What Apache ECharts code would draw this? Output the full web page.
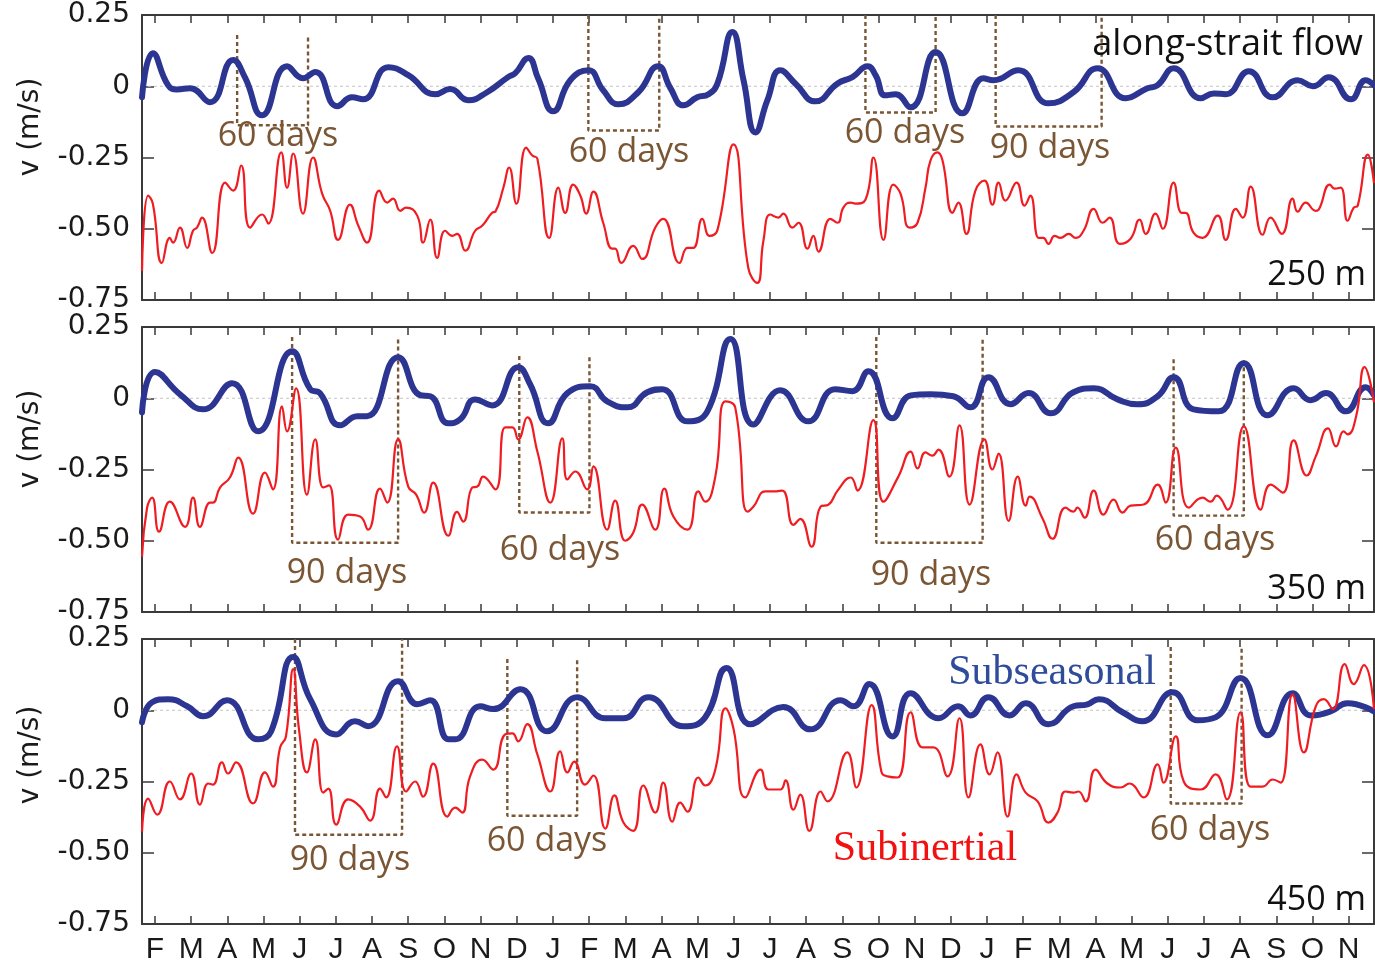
<!DOCTYPE html>
<html><head><meta charset="utf-8">
<script src="https://cdn.jsdelivr.net/npm/echarts@6/dist/echarts.min.js"></script>
<style>html,body{margin:0;padding:0;background:#fff}#c{width:1375px;height:966px}</style>
</head><body><div id="c"></div>
<script>
// ---- tick labels ----
const monthLabels = ['F','M','A','M','J','J','A','S','O','N','D','J','F','M','A','M','J','J','A','S','O','N','D','J','F','M','A','M','J','J','A','S','O','N'];
const yTicks = [-0.75,-0.5,-0.25,0,0.25];
const yTickLabels = ['-0.75','-0.50','-0.25','0','0.25'];
const depthLabels = ['250 m','350 m','450 m'];

// ---- data: [month index (0 = first F tick), velocity m/s] ----
const p1Blue = [[-0.36,-0.039],[-0.06,0.116],[0.36,0.004],[0.61,-0.011],[0.97,-0.007],[1.52,-0.056],[2.16,0.092],[2.49,0.03],[2.96,-0.102],[3.65,0.07],[4.09,0.028],[4.43,0.05],[5.04,-0.07],[5.45,-0.039],[5.75,-0.046],[6.45,0.067],[7.00,0.039],[7.75,-0.028],[8.16,-0.01],[8.66,-0.049],[9.18,-0.021],[9.76,0.032],[9.96,0.046],[10.32,0.099],[10.59,0.028],[11.01,-0.088],[11.48,0.021],[11.98,0.056],[12.39,-0.014],[12.81,-0.063],[13.36,-0.021],[13.91,0.07],[14.25,-0.007],[14.61,-0.067],[14.99,-0.039],[15.30,-0.028],[15.55,0.01],[15.96,0.19],[16.27,0.021],[16.60,-0.162],[16.93,-0.049],[17.29,0.056],[17.70,0.01],[18.26,-0.053],[18.87,0.01],[19.28,0.032],[19.70,0.07],[19.92,0.039],[20.19,-0.032],[20.47,-0.028],[20.89,-0.074],[21.58,0.12],[22.32,-0.095],[22.90,0.028],[23.18,0.021],[23.87,0.056],[24.70,-0.06],[25.39,-0.021],[26.06,0.063],[26.83,-0.042],[27.44,-0.007],[27.72,0.004],[28.16,0.063],[28.91,-0.042],[29.27,-0.025],[29.60,-0.028],[30.24,0.053],[30.90,-0.039],[31.59,0.021],[32.01,0],[32.45,0.032],[33.06,-0.046],[33.47,0.021],[33.70,0.004]];
const p1Red = [[-0.36,-0.648],[-0.19,-0.384],[-0.06,-0.412],[0.19,-0.62],[0.41,-0.532],[0.50,-0.549],[0.69,-0.496],[0.89,-0.567],[1.05,-0.507],[1.16,-0.496],[1.30,-0.461],[1.58,-0.585],[1.94,-0.338],[2.16,-0.366],[2.38,-0.278],[2.63,-0.496],[2.96,-0.45],[3.13,-0.482],[3.49,-0.232],[3.65,-0.356],[3.82,-0.236],[4.09,-0.447],[4.37,-0.25],[4.62,-0.377],[4.84,-0.436],[5.06,-0.539],[5.39,-0.415],[5.62,-0.489],[5.86,-0.549],[6.20,-0.366],[6.42,-0.408],[6.58,-0.394],[6.78,-0.437],[6.94,-0.426],[7.25,-0.454],[7.41,-0.549],[7.61,-0.468],[7.80,-0.602],[8.02,-0.507],[8.22,-0.525],[8.35,-0.518],[8.58,-0.577],[8.85,-0.507],[9.05,-0.489],[9.32,-0.444],[9.41,-0.44],[9.63,-0.356],[9.79,-0.285],[9.99,-0.412],[10.26,-0.215],[10.43,-0.243],[10.57,-0.254],[10.90,-0.532],[11.15,-0.356],[11.34,-0.444],[11.56,-0.345],[11.76,-0.384],[11.92,-0.447],[12.12,-0.37],[12.39,-0.479],[12.64,-0.57],[12.72,-0.57],[12.89,-0.62],[13.22,-0.56],[13.47,-0.606],[13.83,-0.496],[14.05,-0.465],[14.50,-0.62],[14.72,-0.567],[14.88,-0.567],[15.13,-0.465],[15.33,-0.525],[15.55,-0.504],[15.99,-0.204],[16.40,-0.637],[16.65,-0.69],[16.82,-0.542],[17.01,-0.45],[17.23,-0.461],[17.37,-0.447],[17.62,-0.496],[17.79,-0.479],[18.04,-0.57],[18.20,-0.525],[18.34,-0.58],[18.67,-0.465],[18.87,-0.479],[19.03,-0.426],[19.23,-0.408],[19.36,-0.412],[19.64,-0.398],[19.86,-0.25],[20.14,-0.539],[20.41,-0.345],[20.61,-0.377],[20.86,-0.496],[21.08,-0.479],[21.30,-0.356],[21.44,-0.26],[21.63,-0.232],[21.77,-0.26],[22.05,-0.444],[22.21,-0.408],[22.43,-0.518],[22.68,-0.366],[22.93,-0.331],[23.15,-0.415],[23.32,-0.338],[23.51,-0.401],[23.82,-0.338],[24.04,-0.419],[24.20,-0.384],[24.43,-0.532],[24.56,-0.532],[24.70,-0.553],[24.87,-0.525],[25.03,-0.532],[25.26,-0.518],[25.45,-0.532],[25.67,-0.507],[25.95,-0.43],[26.20,-0.479],[26.39,-0.461],[26.67,-0.553],[26.97,-0.535],[27.22,-0.468],[27.39,-0.518],[27.66,-0.447],[27.86,-0.5],[28.16,-0.338],[28.38,-0.444],[28.49,-0.444],[28.71,-0.514],[28.96,-0.532],[29.38,-0.454],[29.60,-0.539],[29.88,-0.43],[30.07,-0.461],[30.29,-0.352],[30.62,-0.521],[30.84,-0.461],[31.15,-0.518],[31.45,-0.394],[31.59,-0.44],[31.81,-0.408],[32.09,-0.437],[32.17,-0.433],[32.48,-0.345],[32.61,-0.359],[32.78,-0.356],[32.97,-0.472],[33.14,-0.426],[33.25,-0.419],[33.53,-0.24],[33.70,-0.34]];

const p2Blue = [[-0.36,-0.049],[0.00,0.092],[0.69,0.014],[1.33,-0.039],[2.13,0.053],[2.85,-0.116],[3.79,0.165],[4.29,0.032],[4.56,0.018],[5.12,-0.095],[5.59,-0.063],[5.86,-0.063],[6.72,0.144],[7.33,0.011],[7.61,0.007],[8.11,-0.088],[8.44,-0.074],[8.85,-0.004],[9.32,-0.025],[10.04,0.109],[10.37,0.049],[10.87,-0.088],[11.40,0.018],[12.03,0.042],[12.50,-0.011],[13.06,-0.032],[13.61,0.021],[14.02,0.032],[14.72,-0.081],[15.27,-0.046],[15.91,0.208],[16.54,-0.092],[17.29,0.028],[18.06,-0.081],[18.80,0.032],[19.28,0.025],[19.72,0.095],[20.39,-0.07],[20.89,0.01],[21.44,0.014],[22.07,0.007],[22.54,-0.032],[23.04,0.074],[23.65,-0.021],[24.15,0.018],[24.76,-0.053],[25.39,0.021],[25.95,0.035],[26.61,-0.004],[27.16,-0.021],[27.72,0.007],[28.16,0.074],[28.71,-0.039],[29.41,-0.046],[30.10,0.123],[30.76,-0.06],[31.48,0.035],[31.95,-0.007],[32.37,0.018],[32.92,-0.046],[33.47,0.039],[33.70,0.01]];
const p2Red = [[-0.36,-0.556],[-0.22,-0.384],[-0.08,-0.349],[0.11,-0.468],[0.41,-0.363],[0.83,-0.451],[1.05,-0.349],[1.24,-0.451],[1.52,-0.366],[1.60,-0.366],[1.80,-0.313],[2.07,-0.278],[2.30,-0.208],[2.71,-0.405],[3.04,-0.261],[3.26,-0.32],[3.51,-0.028],[3.65,-0.116],[3.90,0.035],[4.20,-0.338],[4.43,-0.144],[4.65,-0.313],[4.81,-0.306],[5.06,-0.496],[5.34,-0.408],[5.67,-0.415],[5.89,-0.461],[6.22,-0.317],[6.42,-0.366],[6.72,-0.144],[7.00,-0.31],[7.22,-0.338],[7.44,-0.401],[7.69,-0.296],[8.11,-0.482],[8.35,-0.399],[8.52,-0.433],[8.77,-0.313],[8.91,-0.31],[9.07,-0.275],[9.41,-0.32],[9.68,-0.102],[9.88,-0.102],[10.04,-0.144],[10.29,-0.067],[10.57,-0.187],[10.93,-0.366],[11.26,-0.141],[11.40,-0.285],[11.62,-0.257],[11.95,-0.32],[12.12,-0.239],[12.50,-0.461],[12.72,-0.359],[13.00,-0.5],[13.22,-0.472],[13.47,-0.373],[13.83,-0.461],[14.08,-0.317],[14.33,-0.415],[14.72,-0.461],[15.02,-0.327],[15.21,-0.363],[15.49,-0.275],[15.77,-0.011],[16.04,-0.032],[16.38,-0.398],[16.54,-0.381],[16.87,-0.327],[17.10,-0.327],[17.34,-0.324],[17.65,-0.444],[17.84,-0.423],[18.15,-0.521],[18.40,-0.38],[18.62,-0.373],[18.87,-0.324],[19.23,-0.278],[19.42,-0.324],[19.86,-0.077],[20.14,-0.363],[20.55,-0.275],[20.89,-0.187],[21.08,-0.246],[21.30,-0.19],[21.49,-0.201],[21.66,-0.18],[21.96,-0.275],[22.24,-0.095],[22.52,-0.373],[22.93,-0.144],[23.15,-0.25],[23.32,-0.194],[23.60,-0.43],[23.85,-0.275],[24.07,-0.377],[24.18,-0.345],[24.54,-0.423],[24.81,-0.493],[25.17,-0.384],[25.39,-0.398],[25.50,-0.384],[25.70,-0.419],[25.95,-0.324],[26.22,-0.408],[26.50,-0.356],[26.75,-0.401],[26.97,-0.377],[27.33,-0.373],[27.72,-0.303],[27.94,-0.366],[28.22,-0.173],[28.58,-0.384],[28.96,-0.349],[29.18,-0.363],[29.35,-0.342],[29.65,-0.391],[30.10,-0.099],[30.57,-0.391],[30.84,-0.303],[31.18,-0.331],[31.48,-0.148],[31.84,-0.271],[32.09,-0.204],[32.43,-0.106],[32.65,-0.169],[32.86,-0.116],[32.97,-0.127],[33.20,-0.067],[33.44,0.109],[33.70,-0.014]];

const p3Blue = [[-0.36,-0.042],[-0.08,0.028],[0.36,0.039],[0.89,0.014],[1.33,-0.021],[1.99,0.035],[2.85,-0.102],[3.21,-0.074],[3.82,0.187],[4.29,0.039],[5.01,-0.085],[5.53,-0.039],[5.89,-0.056],[6.72,0.102],[7.25,0.021],[7.61,0.035],[8.11,-0.102],[8.30,-0.102],[8.99,0.014],[9.35,0.004],[10.10,0.074],[10.84,-0.074],[11.67,0.046],[12.45,-0.028],[12.95,-0.028],[13.64,0.046],[14.61,-0.056],[15.21,-0.025],[15.80,0.148],[16.46,-0.049],[17.37,0.011],[18.12,-0.067],[18.95,0.035],[19.31,0.014],[19.75,0.092],[20.39,-0.092],[20.89,0.06],[21.66,-0.028],[22.21,0.014],[22.54,-0.018],[23.04,0.046],[23.62,-0.018],[24.07,0.025],[24.70,-0.049],[25.39,0.014],[25.78,0.021],[26.09,0.039],[26.75,-0.007],[27.30,-0.039],[28.13,0.063],[28.82,-0.035],[29.32,-0.025],[30.01,0.113],[30.76,-0.088],[31.45,0.06],[31.95,-0.018],[32.50,-0.004],[32.97,0.025],[33.70,-0.004]];
const p3Red = [[-0.36,-0.426],[-0.19,-0.31],[0.06,-0.366],[0.41,-0.25],[0.69,-0.313],[1.00,-0.222],[1.24,-0.331],[1.47,-0.257],[1.60,-0.261],[1.85,-0.183],[2.02,-0.222],[2.24,-0.183],[2.71,-0.327],[3.04,-0.218],[3.26,-0.268],[3.46,-0.13],[3.62,-0.092],[3.82,0.144],[3.98,-0.067],[4.20,-0.218],[4.43,-0.102],[4.65,-0.289],[4.79,-0.275],[5.01,-0.401],[5.34,-0.313],[5.67,-0.338],[5.95,-0.387],[6.22,-0.275],[6.39,-0.306],[6.69,-0.127],[6.94,-0.285],[7.19,-0.25],[7.41,-0.303],[7.69,-0.187],[8.08,-0.373],[8.30,-0.342],[8.49,-0.359],[8.71,-0.232],[9.05,-0.173],[9.35,-0.208],[9.68,-0.085],[9.88,-0.081],[10.04,-0.109],[10.29,-0.049],[10.57,-0.155],[10.93,-0.285],[11.20,-0.144],[11.40,-0.218],[11.59,-0.18],[11.89,-0.261],[12.12,-0.229],[12.45,-0.415],[12.70,-0.299],[12.95,-0.394],[13.22,-0.423],[13.50,-0.264],[13.83,-0.359],[14.05,-0.254],[14.30,-0.391],[14.52,-0.324],[14.72,-0.356],[15.02,-0.236],[15.21,-0.264],[15.49,-0.208],[15.77,0.007],[15.99,-0.063],[16.32,-0.306],[16.74,-0.208],[16.96,-0.278],[17.29,-0.278],[17.43,-0.246],[17.65,-0.349],[17.84,-0.296],[18.09,-0.423],[18.40,-0.285],[18.59,-0.32],[19.14,-0.148],[19.39,-0.271],[19.81,0.018],[20.08,-0.215],[20.25,-0.232],[20.53,-0.236],[20.89,-0.007],[21.22,-0.13],[21.52,-0.13],[21.91,-0.232],[22.24,-0.028],[22.49,-0.306],[22.82,-0.12],[23.07,-0.225],[23.29,-0.148],[23.57,-0.373],[23.82,-0.225],[24.07,-0.289],[24.40,-0.32],[24.70,-0.394],[24.95,-0.359],[25.17,-0.285],[25.39,-0.289],[25.53,-0.285],[25.73,-0.32],[26.00,-0.208],[26.33,-0.257],[26.69,-0.271],[26.94,-0.257],[27.33,-0.306],[27.72,-0.19],[27.88,-0.254],[28.22,-0.092],[28.44,-0.25],[28.91,-0.278],[29.32,-0.225],[29.63,-0.313],[30.01,-0.007],[30.29,-0.268],[30.62,-0.268],[30.90,-0.243],[31.12,-0.254],[31.45,0.056],[31.76,-0.148],[32.09,0.014],[32.31,0.039],[32.56,0.004],[32.89,0.162],[33.14,0.092],[33.42,0.158],[33.70,0.004]];

// ---- period brackets: [x start, x end, top value, bottom value] ----
const brP1 = [[2.27,4.23,0.18,-0.137],[11.98,13.94,0.25,-0.155],[19.64,21.58,0.25,-0.092],[23.24,26.17,0.25,-0.141]];
const brP2 = [[3.79,6.72,0.215,-0.507],[10.07,12.01,0.148,-0.401],[19.94,22.88,0.215,-0.507],[28.16,30.10,0.137,-0.412]];
const brP3 = [[3.87,6.83,0.25,-0.437],[9.74,11.67,0.18,-0.37],[28.08,30.04,0.222,-0.327]];

// ---- styling / layout ----
const xMin = -0.36, xMax = 33.7;
const BLUE = '#2C3591', RED = '#EF1D22', BROWN = '#7A5634', AXIS = '#3a3a3a';
const tickVals = monthLabels.map((_, i) => i);
const gridTops = [15, 327, 639];
const gridH = 285;

const grids = gridTops.map(t => ({left: 142, right: 1, top: t, height: gridH}));
const xAxes = [], yAxes = [];
gridTops.forEach((t, i) => {
  ['bottom', 'top'].forEach(pos => {
    xAxes.push({
      type: 'value', gridIndex: i, position: pos, min: xMin, max: xMax,
      axisLine: {show: true, onZero: false, lineStyle: {color: AXIS, width: 2}},
      axisTick: {show: true, inside: true, length: 8, customValues: tickVals, lineStyle: {color: AXIS, width: 1.5}},
      axisLabel: {show: (i === 2 && pos === 'bottom'), customValues: tickVals,
        formatter: v => monthLabels[Math.round(v)] || '',
        fontSize: 30, fontFamily: '"Liberation Sans", Arial, sans-serif', color: '#1a1a1a', margin: 11},
      splitLine: {show: false}
    });
  });
  ['left', 'right'].forEach(pos => {
    yAxes.push({
      type: 'value', gridIndex: i, position: pos, min: -0.75, max: 0.25, interval: 0.25,
      axisLine: {show: true, onZero: false, lineStyle: {color: AXIS, width: 2}},
      axisTick: {show: true, inside: true, length: 12, lineStyle: {color: AXIS, width: 1.5}},
      axisLabel: {show: pos === 'left', margin: 12,
        formatter: v => { const k = yTicks.findIndex(t => Math.abs(t - v) < 1e-6); return k >= 0 ? yTickLabels[k] : ''; },
        fontSize: 28, fontFamily: '"DejaVu Sans", sans-serif', color: '#1a1a1a'},
      splitLine: {show: false}
    });
  });
});

const panels = [
  {blue: p1Blue, red: p1Red, br: brP1},
  {blue: p2Blue, red: p2Red, br: brP2},
  {blue: p3Blue, red: p3Red, br: brP3}
];
const series = [];
panels.forEach((p, i) => {
  const xi = i * 2, yi = i * 2;
  series.push({type: 'line', xAxisIndex: xi, yAxisIndex: yi, data: [[xMin, 0], [xMax, 0]], symbol: 'none',
    lineStyle: {color: '#c4c4c4', width: 1, type: [3, 3]}, z: 1, silent: true});
  p.br.forEach(b => series.push({type: 'line', xAxisIndex: xi, yAxisIndex: yi,
    data: [[b[0], b[2]], [b[0], b[3]], [b[1], b[3]], [b[1], b[2]]], symbol: 'none',
    lineStyle: {color: BROWN, width: 2.4, type: [4, 3]}, z: 2, silent: true}));
  series.push({type: 'line', xAxisIndex: xi, yAxisIndex: yi, data: p.blue, smooth: 0.5, symbol: 'none',
    lineStyle: {color: BLUE, width: 6, cap: 'round', join: 'round'}, z: 3});
  series.push({type: 'line', xAxisIndex: xi, yAxisIndex: yi, data: p.red, smooth: 0.5, symbol: 'none',
    lineStyle: {color: RED, width: 2.2}, z: 4});
});

// ---- text annotations ----
const ANN = '"Open Sans", "Noto Sans", sans-serif';
function txt(text, x, y, font, fill, align) {
  return {type: 'text', x: x, y: y, z: 100, style: {text: text, x: 0, y: 0, font: font, fill: fill,
    textAlign: align || 'center', textVerticalAlign: 'middle'}};
}
const periodLabels = [
  ['60 days', 278, 136], ['60 days', 629, 152], ['60 days', 905, 133], ['90 days', 1050, 148],
  ['90 days', 347, 573], ['60 days', 560, 550], ['90 days', 931, 575], ['60 days', 1215, 540],
  ['90 days', 350, 860], ['60 days', 547, 841], ['60 days', 1210, 830]
];
const graphics = periodLabels.map(a => txt(a[0], a[1], a[2], '34px ' + ANN, BROWN));
graphics.push(txt('along-strait flow', 1363, 45, '36px ' + ANN, '#111', 'right'));
[275, 589, 900].forEach((y, i) => graphics.push(txt(depthLabels[i], 1366, y, '34px ' + ANN, '#111', 'right')));
graphics.push(txt('Subseasonal', 1052, 673, '42px "Liberation Serif", "Times New Roman", serif', '#2F4C9B'));
graphics.push(txt('Subinertial', 925, 849, '42px "Liberation Serif", "Times New Roman", serif', '#F21010'));
[127, 439, 755].forEach(y => graphics.push({type: 'text', x: 31, y: y, rotation: Math.PI / 2, z: 100,
  style: {text: 'v (m/s)', x: 0, y: 0, font: '28px "DejaVu Sans", sans-serif', fill: '#1a1a1a',
    textAlign: 'center', textVerticalAlign: 'middle'}}));

const chart = echarts.init(document.getElementById('c'), null, {renderer: 'canvas'});
chart.setOption({
  animation: false,
  backgroundColor: '#fff',
  grid: grids, xAxis: xAxes, yAxis: yAxes, series: series, graphic: graphics
});
</script></body></html>
